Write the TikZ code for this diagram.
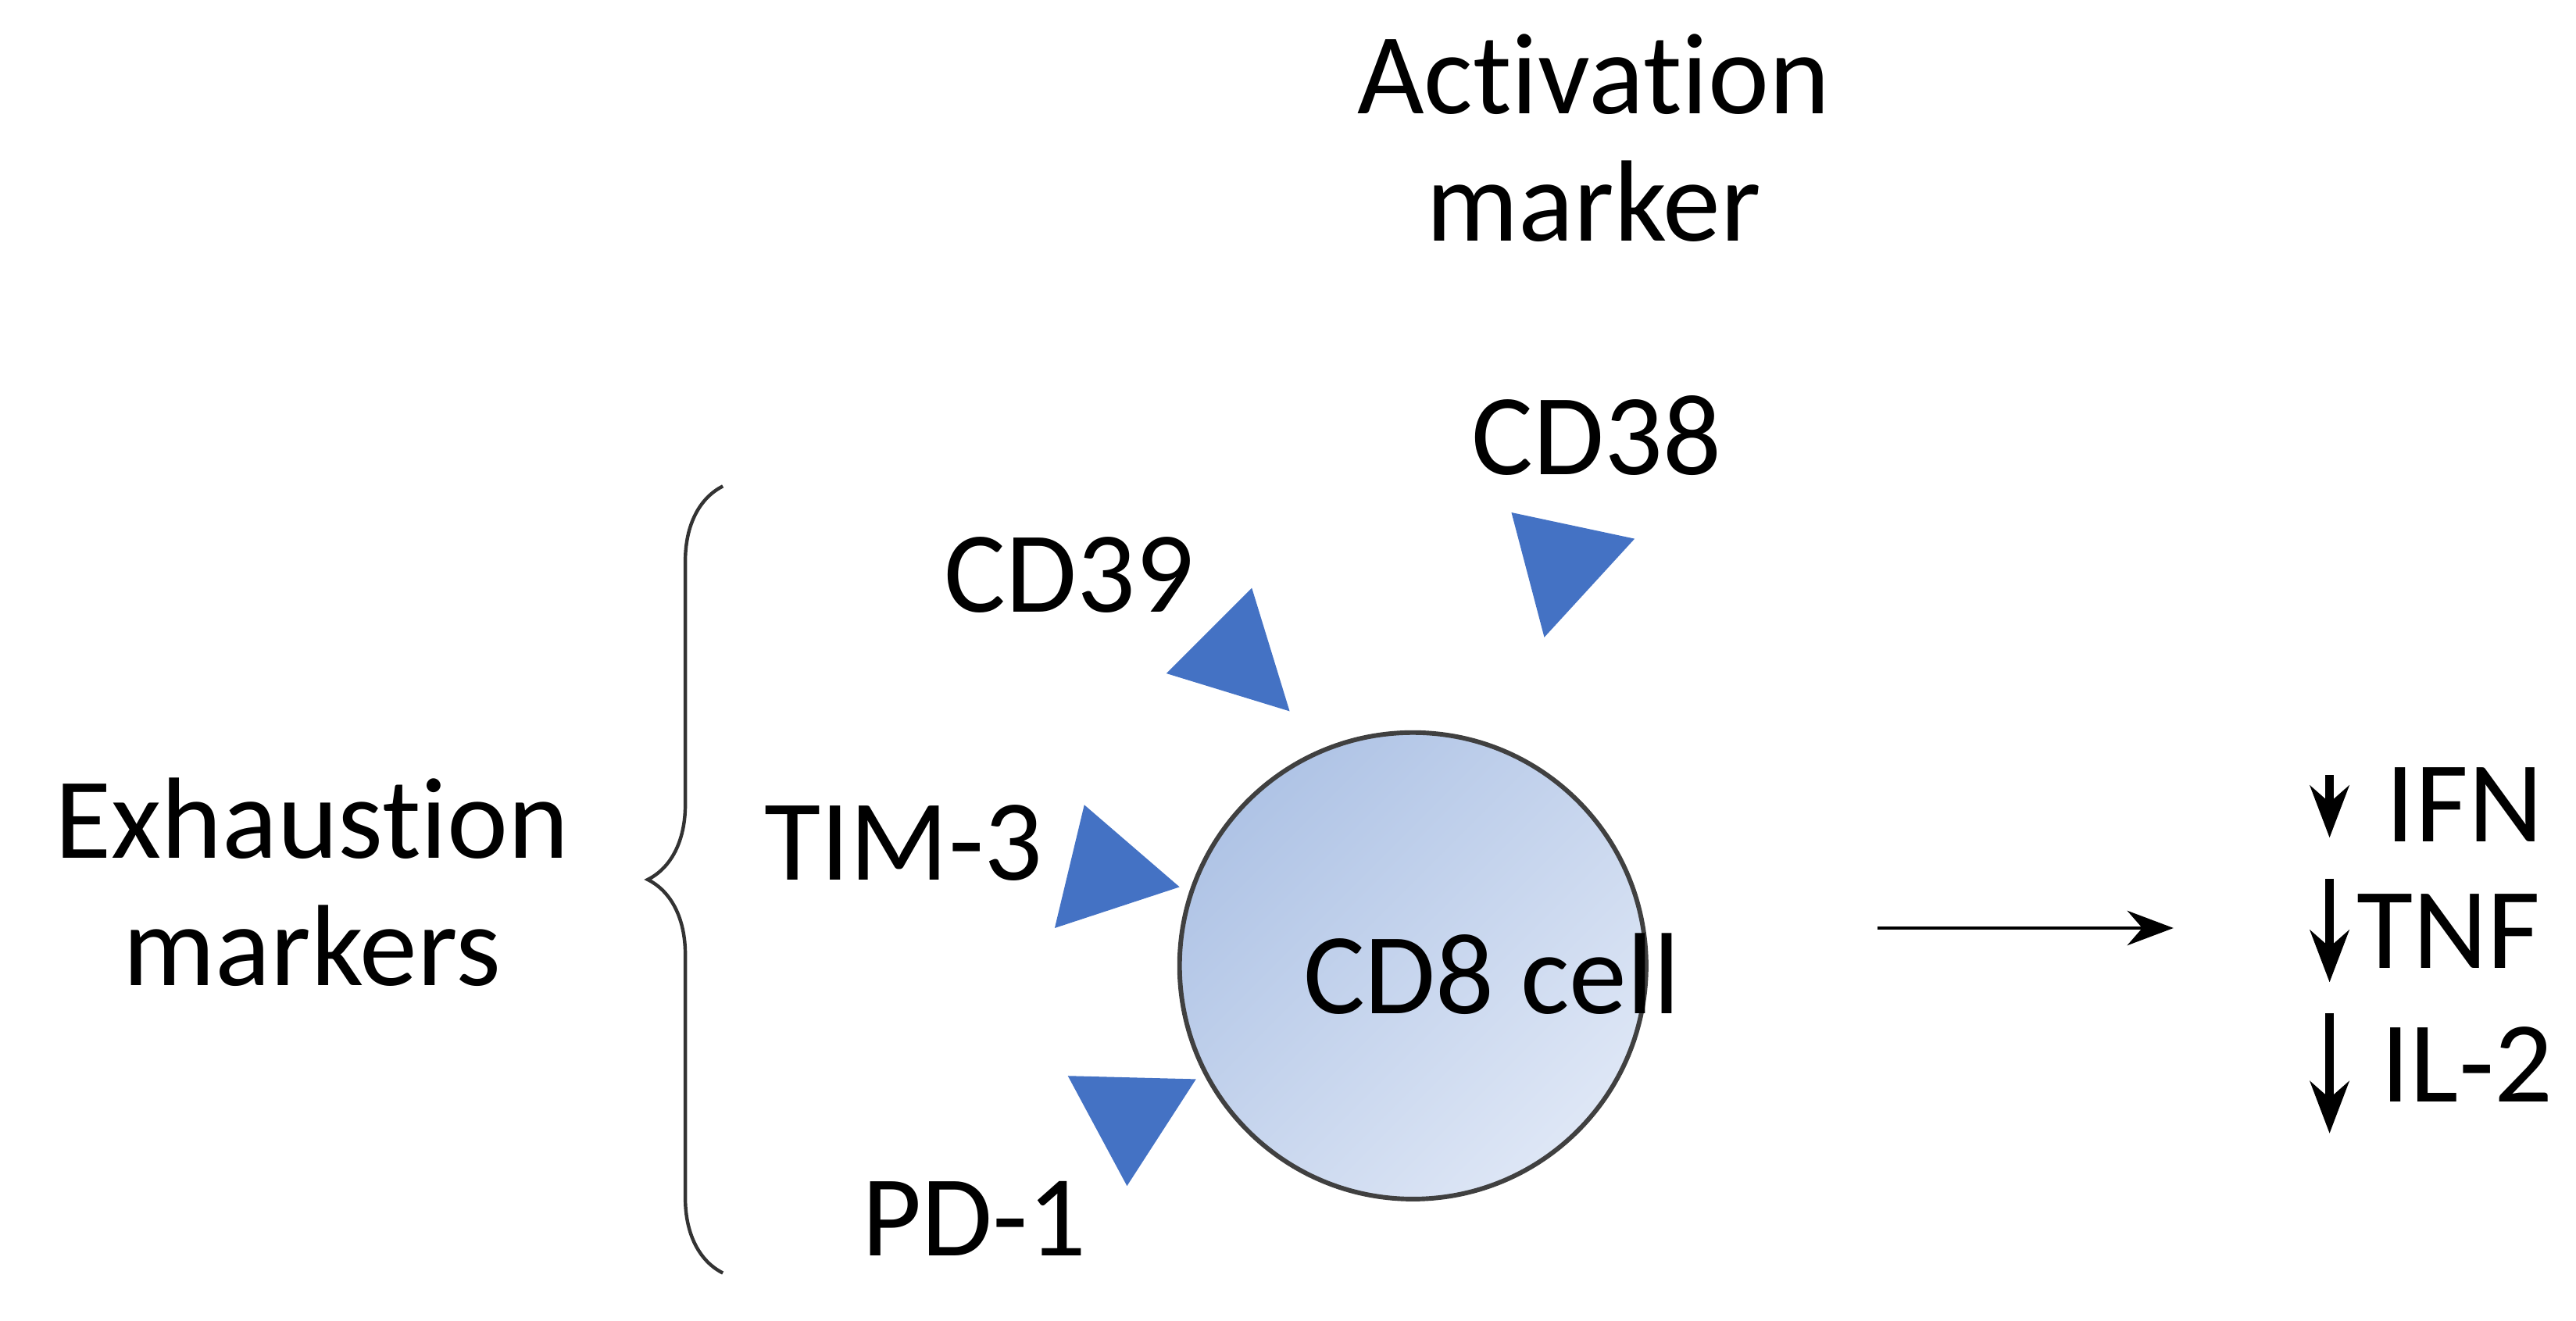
\documentclass[tikz,border=0pt]{standalone}
\usepackage{fontspec}
\setmainfont{Carlito}[Ligatures={NoCommon,NoContextual}]
\usetikzlibrary{decorations.pathreplacing,arrows.meta,shadings}
\definecolor{tri}{HTML}{4472C4}
\definecolor{cdark}{RGB}{165,188,226}
\definecolor{clight}{RGB}{232,238,249}
\colorlet{cmid}{cdark!50!clight}
\begin{document}
\begin{tikzpicture}[x=0.01cm,y=-0.01cm,
 lab/.style={font=\fontsize{20}{22}\selectfont,align=center},
 mk/.style={fill=tri,draw=none}]
\useasboundingbox (0,0) rectangle (1568,804);
\shade[upper left=cdark,lower right=clight,upper right=cmid,lower left=cmid] (860,588) circle (142);
\draw[black!75,line width=0.8pt] (860,588) circle (142);
\node[lab] (cell) at (908,593) {CD8 cell};
\node[lab] (act) at (970,84) {Activation\\marker};
\node[lab] (cd38) at (972,265) {CD38};
\node[lab] (cd39) at (651,350) {CD39};
\node[lab] (tim) at (550,513) {TIM-3};
\node[lab] (pd) at (593,742) {PD-1};
\node[lab] (exh) at (190,537) {Exhaustion\\markers};
\fill[mk] (920,312) -- (995,328) -- (940,388) -- cycle;
\fill[mk] (762,358) -- (710,410) -- (785,433) -- cycle;
\fill[mk] (660,490) -- (642,565) -- (718,540) -- cycle;
\fill[mk] (650,655) -- (728,657) -- (686,722) -- cycle;
\draw[black!80,line width=0.6pt,decorate,decoration={brace,amplitude=13pt,aspect=0.5}] (440,775) -- (440,296);
\coordinate (a1) at (1143,565); \coordinate (a2) at (1323,565);
\draw[-{Stealth[length=8pt]},line width=0.6pt] (a1) -- (a2);
\foreach \ya/\yb in {472/510,535/598,617/690}{
 \draw[-{Stealth[length=9pt]},line width=1.4pt] (1418,\ya) -- (1418,\yb);}
\node[lab,anchor=west] (ifn) at (1440,490) {IFN};
\node[lab,anchor=west] (tnf) at (1422,567) {TNF};
\node[lab,anchor=west] (il) at (1437,648) {IL-2};
\end{tikzpicture}
\end{document}
